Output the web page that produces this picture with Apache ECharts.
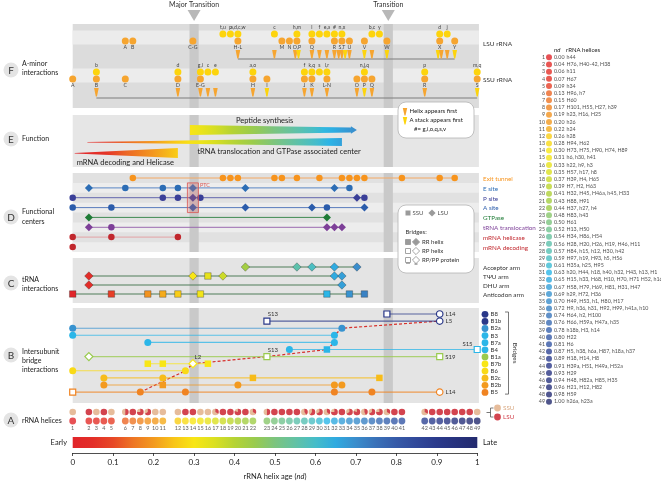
<!DOCTYPE html>
<html>
<head>
<meta charset="utf-8">
<title>Ribosomal history</title>
<script src="https://cdn.jsdelivr.net/npm/echarts@6/dist/echarts.min.js"></script>
<style>
html,body{margin:0;padding:0;background:#ffffff;}
#chart{width:661px;height:485px;}
</style>
</head>
<body>
<div id="chart"></div>
<script>
// ======================= DATA =======================
const helixNd = [0.00,0.04,0.06,0.07,0.09,0.13,0.15,0.17,0.19,0.20,0.22,0.26,0.28,0.30,0.31,0.33,0.35,0.37,0.39,0.41,0.43,0.44,0.48,0.50,0.52,0.54,0.56,0.57,0.59,0.61,0.63,0.65,0.67,0.69,0.70,0.72,0.74,0.76,0.78,0.80,0.81,0.87,0.89,0.91,0.93,0.94,0.96,0.98,1.00];
const helixNames = [
'h44','H76, H40-42, H38','h11','H67','h34','H96, h7','H60','H101, H55, H27, h39','h23, H16, H25','h26',
'h24','h28','H94, H62','H73, H75, H90, H74, H89','h6, h30, h41','h22, h9, h3','H57, h17, h8','H39, H4, H65','H7, H2, H63','H32, H45, H46a, h45, H33',
'H88, H91','H37, h27, h4','H83, h43','H61','H13, H50','H34, H86, H54','H28, H20, H26, H19, H46, H11','H84, h15, h12, H30, h42','H97, h19, H93, h5, H56','H35a, h25, H95',
'h20, H44, h18, h40, h32, H43, h13, H1','H15, h33, H68, H10, H70, H71 H52, h16','H58, H79, H69, H81, H31, H47','h29, H72, H36','H49, H53, h1, H80, H17','H9, h36, h31, H92, H99, h41a, h10','H64, h2, H100','H66, H59a, H47a, h35','h18b, H3, h14','H22',
'H6','H5, h38, h6a, H87, h18a, h37','H18, H14, H8','H39a, H51, H49a, H52a','H29','H48, H82a, H85, H35','H21, H12, H82','H59','h26a, h23a'];

const tickLabels = ['0','0.1','0.2','0.3','0.4','0.5','0.6','0.7','0.8','0.9','1'];
const transitionNames = ['Major Transition','Transition'];
const transitionNd = [0.30, 0.78];

// F: A-minor interactions (helix numbers 1..49)
const lsuHelixIdx = [6,7,14,20,25,26,27,29,32,33,34,36,39,44,46];
const lsuHelixLab = ['A','B','C-G','H-L','M','N','O,P','Q','R','S,T','U','V','W','X','Y'];
const lsuStackIdx = [18,19,20,24,27,29,30,31,32,33,37,38,44,45];
const lsuStackLab = ['t,u','p','a,d,c,w','c','h,m','l','f','e,a','#','n,x','b,c','y','d','j'];
const lsuFirstIdx = [20,24,27,27,29,30,31,32,33,33,33,34,36,37,39,44,44,45,46];
const lsuFirstType = ['H','H','H','A','H','H','H','H','H','H','A','H','A','H','A','A','H','H','A'];
const ssuHelixIdx = [1,3,6,12,15,22,23,28,29,31,35,36,37,42,49];
const ssuHelixLab = ['A','B','C','D','E-G','H','I','J','K','L-N','O','P','Q','R','S'];
const ssuStackIdx = [3,12,15,16,17,22,28,29,30,31,36,42,49];
const ssuStackLab = ['b','d','g,i','c','e','a,o','f','k,q','s','l,r','n,j,q','p','m,q'];
const ssuFirstIdx = [3,12,15,16,17,22,23,28,29,31,35,36,37,42,49];
const ssuFirstType = ['H','H','H','H','H','H','A','H','H','H','H','A','H','H','A'];

// E: function
const functionNames = ['Peptide synthesis','tRNA translocation and GTPase associated center','mRNA decoding and Helicase'];
const functionFromIdx = [14, 2, 1];
const functionToIdx = [35, 33, 12];

// D: functional centers  [helix, shape]
const centerNames = ['Exit tunnel','E site','P site','A site','GTPase','tRNA translocation','mRNA helicase','mRNA decoding'];
const exitTunnel = [[7,'c'],[18,'c'],[19,'c'],[20,'c'],[24,'c'],[25,'c'],[27,'c'],[30,'c'],[33,'c'],[34,'c'],[35,'c'],[36,'c'],[41,'c'],[44,'c'],[46,'c']];
const eSite = [[2,'d'],[6,'c'],[11,'c'],[12,'c'],[14,'d'],[21,'d'],[32,'d'],[34,'c']];
const pSite = [[1,'c'],[11,'c'],[12,'c'],[14,'d'],[15,'c'],[35,'d'],[36,'c']];
const aSite = [[1,'c'],[5,'c'],[14,'d'],[21,'d'],[29,'d'],[31,'c'],[36,'d']];
const gtpase = [[2,'d'],[31,'d']];
const trnaTransloc = [[2,'d'],[5,'c'],[31,'d'],[32,'d'],[33,'d']];
const mrnaHelicase = [[1,'c'],[5,'c'],[12,'c']];
const mrnaDecoding = [[1,'c']];
const ptcHelix = 14;

// C: tRNA interactions
const trnaNames = ['Acceptor arm','TΨU arm','DHU arm','Anticodon arm'];
const acceptorArm = [[21,'d'],[27,'d'],[29,'d'],[32,'d'],[35,'d']];
const tpsiArm = [[2,'d'],[14,'d'],[16,'s'],[18,'d'],[32,'d'],[33,'d']];
const dhuArm = [[2,'d'],[33,'d']];
const anticodonArm = [[1,'s'],[5,'s'],[9,'s'],[11,'s'],[12,'s'],[15,'s'],[31,'s'],[34,'s'],[36,'s']];

// B: intersubunit bridges
const bridgeNames = ['B8','B1b','B2a','B3','B7a','B4','B1a','B7b','B6','B2c','B2b','B5'];
const bridgeAge = [0.91,0.91,0.69,0.63,0.63,0.63,0.45,0.30,0.28,0.24,0.20,0.17];
const bridgeB8  = [[39,'os'],[44,'oc']];
const bridgeB1b = [[23,'os'],[44,'oc']];
const bridgeB2a = [[1,'c'],[33,'c']];
const bridgeB3  = [[1,'c'],[32,'c']];
const bridgeB7a = [[9,'c'],[32,'c']];
const bridgeB4  = [[26,'c'],[31,'s'],[49,'os']];
const bridgeB1a = [[2,'od'],[23,'os'],[44,'os']];
const bridgeB7b = [[9,'s'],[11,'s'],[14,'od'],[16,'s']];
const bridgeB6  = [[1,'c'],[13,'c']];
const bridgeB2c = [[4,'c'],[11,'c'],[22,'s'],[38,'s']];
const bridgeB2b = [[4,'c'],[11,'s'],[20,'c'],[32,'c'],[33,'c']];
const bridgeB5  = [[1,'os'],[8,'c'],[13,'c'],[32,'c'],[37,'c'],[44,'oc']];
const bridgeProteins = [['B8',44,'L14'],['B1b',23,'S13'],['B1b',44,'L5'],['B4',49,'S15'],['B1a',23,'S13'],['B1a',44,'S19'],['B7b',14,'L2'],['B5',44,'L14']];
const firstContactPath = [['B5',8],['B6',13],['B7b',14],['B1a',23],['B4',31],['B7a',32],['B3',32],['B2a',33],['B1b',44]];

// ======================= STYLE / LAYOUT =======================
const FONT = 'Lato, "Open Sans", "DejaVu Sans", sans-serif';
const X0 = 72.7, XW = 404.6, PX = 1 / XW;
const PANEL_R = 1.004;
const AGE_STOPS = [[0,'#e1252a'],[0.08,'#e43427'],[0.13,'#ec6726'],[0.2,'#f39a1f'],[0.26,'#f9cd17'],[0.3,'#f8e616'],[0.35,'#dbe021'],[0.4,'#b5d334'],[0.45,'#99cb4e'],[0.5,'#7cc47f'],[0.55,'#62c2a4'],[0.6,'#45bdc9'],[0.63,'#2bb6e8'],[0.7,'#3a8dcc'],[0.76,'#3a6bb4'],[0.82,'#3452a2'],[0.9,'#2b3a8c'],[1,'#232a6e']];
const ORANGE_F = '#f6a530', YELLOW_F = '#fdd40c';
const SSU_C = '#e6bc9b', LSU_C = '#d3444f';
const CENTER_COLORS = ['#f7941d','#2c6db5','#3a3f98','#2b5cab','#1e7b36','#7d3f98','#c1272d','#c1272d'];
const CENTER_LINE = ['#f4a862','#5a86c4','#6266ad','#5a7cbc','#3f8a52','#9a6ab0','#e3a2a4','#e3a2a4'];
const TRNA_LINE = '#4e7d58';
const Y = {
  lsuStack:34, lsuHelix:41, lsuTri:50, lsuLine:59,
  ssuStack:72, ssuHelix:79, ssuTri:88, ssuLine:98,
  centers:[178,187.9,197.7,207.6,217.4,227.3,237.1,247],
  trna:[267,276,285,294],
  bridge0:314, bridgeStep:7.1,
  aTop:412, aBottom:421, cbar:[437,448]
};
const PANELS = {F:[24,108], E:[115,167], D:[173,252], C:[258,303], B:[308,403]};

function hexToRgb(h){ return [parseInt(h.slice(1,3),16), parseInt(h.slice(3,5),16), parseInt(h.slice(5,7),16)]; }
function ageColor(v){
  v = Math.max(0, Math.min(1, v));
  for (let i = 1; i < AGE_STOPS.length; i++) {
    if (v <= AGE_STOPS[i][0]) {
      const a = AGE_STOPS[i-1][0], b = AGE_STOPS[i][0];
      const A = hexToRgb(AGE_STOPS[i-1][1]), B = hexToRgb(AGE_STOPS[i][1]);
      const t = (v - a) / (b - a);
      return 'rgb(' + A.map((x,k)=>Math.round(x + (B[k]-x)*t)).join(',') + ')';
    }
  }
  return AGE_STOPS[AGE_STOPS.length-1][1];
}
function gradientStops(a, b){
  const out = [];
  for (let i = 0; i <= 20; i++) out.push({offset:i/20, color:ageColor(a + (b-a)*i/20)});
  return out;
}

// helix x positions: clusters of close ages are spread evenly (as in panel A)
const STEP = 7.5 * PX;
const helixX = [];
helixNd.forEach((v, i) => {
  if (i === 0 || v - helixNd[i-1] >= 0.03 - 1e-9) helixX.push(v);
  else helixX.push(helixX[i-1] + STEP);
});
const hx = i => helixX[i-1];

const lsuFrac = helixNames.map(n => {
  const t = n.split(/[,\s]+/).filter(s => s.length);
  return t.filter(s => s[0] === 'H').length / t.length;
});

// ======================= SERIES =======================
const series = [];
const base = {xAxisIndex:0, yAxisIndex:0, clip:false, silent:true, animation:false};

// panel backgrounds
const bgRects = [];
bgRects.push([0, PANEL_R, PANELS.F[0], PANELS.F[1], '#dcdcdc']);
bgRects.push([0, PANEL_R, 30.5, 44.5, '#ececec']);
bgRects.push([0, PANEL_R, 68.5, 82.5, '#ececec']);
bgRects.push([0, PANEL_R, PANELS.E[0], PANELS.E[1], '#e6e6e6']);
bgRects.push([0, PANEL_R, PANELS.D[0], PANELS.D[1], '#e1e1e1']);
for (let i = 1; i < 8; i += 2) bgRects.push([0, PANEL_R, PANELS.D[0] + 9.875*i, PANELS.D[0] + 9.875*(i+1), '#ededed']);
bgRects.push([0, PANEL_R, PANELS.C[0], PANELS.C[1], '#e4e4e4']);
bgRects.push([0, PANEL_R, PANELS.B[0], PANELS.B[1], '#e4e4e4']);
Object.keys(PANELS).forEach(k => transitionNd.forEach(t => bgRects.push([t - 4.6*PX, t + 4.6*PX, PANELS[k][0], PANELS[k][1], '#c9c9c9'])));

series.push(Object.assign({}, base, {type:'custom', z:0,
  data: bgRects.map(r => [r[0], r[2]]),
  renderItem: (params, api) => {
    const r = bgRects[params.dataIndex];
    const a = api.coord([r[0], r[2]]), b = api.coord([r[1], r[3]]);
    return {type:'rect', shape:{x:a[0], y:a[1], width:b[0]-a[0], height:b[1]-a[1]}, style:{fill:r[4]}};
  }}));

// transition headers
series.push(Object.assign({}, base, {type:'custom', z:2,
  data: transitionNd.map(v => [v, 5]),
  renderItem: (params, api) => {
    const p = api.coord([api.value(0), 5]);
    return {type:'group', children:[
      {type:'text', x:p[0], y:p[1], style:{text:transitionNames[params.dataIndex], fill:'#333', fontSize:7, fontFamily:FONT, align:'center', textAlign:'center', verticalAlign:'middle', textVerticalAlign:'middle'}},
      {type:'polygon', shape:{points:[[p[0]-6.5,p[1]+5],[p[0]+6.5,p[1]+5],[p[0],p[1]+16]]}, style:{fill:'#b8b8b8'}}
    ]};
  }}));

// ---- Panel F ----
function labeledDots(idx, lab, y, color, pos){
  return Object.assign({}, base, {type:'scatter', z:4, symbolSize:7, itemStyle:{color:color, opacity:1},
    label:{show:true, position:pos, distance:0.5, fontSize:5.2, color:'#444', fontFamily:FONT},
    data: idx.map((ix,k) => ({value:[hx(ix), y], label:{formatter:lab[k]}}))});
}
series.push(labeledDots(lsuHelixIdx, lsuHelixLab, Y.lsuHelix, ORANGE_F, 'bottom'));
series.push(labeledDots(lsuStackIdx, lsuStackLab, Y.lsuStack, YELLOW_F, 'top'));
series.push(labeledDots(ssuHelixIdx, ssuHelixLab, Y.ssuHelix, ORANGE_F, 'bottom'));
series.push(labeledDots(ssuStackIdx, ssuStackLab, Y.ssuStack, YELLOW_F, 'top'));

function triData(idxArr, typeArr, yTop){
  const cnt = {}, seen = {};
  idxArr.forEach(i => cnt[i] = (cnt[i]||0) + 1);
  return idxArr.map((ix,k) => {
    const n = cnt[ix]; const s = (seen[ix] = (seen[ix]||0) + 1) - 1;
    return [hx(ix) + (s - (n-1)/2) * 3.2 * PX, yTop, typeArr[k] === 'A' ? 1 : 0];
  });
}
const triAll = triData(lsuFirstIdx, lsuFirstType, Y.lsuTri).concat(triData(ssuFirstIdx, ssuFirstType, Y.ssuTri));
series.push(Object.assign({}, base, {type:'custom', z:4, data: triAll,
  renderItem: (params, api) => {
    const p = api.coord([api.value(0), api.value(1)]);
    const c = api.value(2) ? YELLOW_F : ORANGE_F;
    return {type:'polygon', shape:{points:[[p[0]-2.3,p[1]],[p[0]+2.3,p[1]],[p[0]+0.6,p[1]+8.5],[p[0]-0.6,p[1]+8.5]]}, style:{fill:c}};
  }}));
[[lsuFirstIdx, Y.lsuLine],[ssuFirstIdx, Y.ssuLine]].forEach(([arr, y]) => {
  const xs = arr.map(hx);
  series.push(Object.assign({}, base, {type:'line', z:3, symbol:'none', lineStyle:{color:'#7d7d7d', width:1},
    data:[[Math.min.apply(null, xs), y],[Math.max.apply(null, xs), y]]}));
});

// ---- Panel E ----
const FUNC_LAYOUT = [
  {dx:-3, shape:(a,b)=>[[a,125],[b-6,127.4],[b-6,126.2],[b,130],[b-6,133.8],[b-6,132.6],[a,135]], tx:46, ty:121},
  {dx:-1.5, shape:(a,b)=>[[a,142],[b,138],[b,146],[a,142.6]], tx:110, ty:152},
  {dx:2, shape:(a,b)=>[[a,153],[b,148],[b,158],[a,153.6]], tx:2, ty:162.5}
];
series.push(Object.assign({}, base, {type:'custom', z:3,
  data: functionFromIdx.map((f,k) => [hx(f), 140]),
  renderItem: (params, api) => {
    const k = params.dataIndex, L = FUNC_LAYOUT[k];
    const a = hx(functionFromIdx[k]), b = hx(functionToIdx[k]);
    const xa = api.coord([a, 0])[0] + L.dx, xb = api.coord([b, 0])[0];
    return {type:'group', children:[
      {type:'polygon', shape:{points:L.shape(xa, xb)}, style:{fill:new echarts.graphic.LinearGradient(0,0,1,0, gradientStops(a, b))}},
      {type:'text', x:xa + L.tx, y:L.ty, style:{text:functionNames[k], fill:'#222', fontSize:7.5, fontFamily:FONT, align:'left', textAlign:'left', verticalAlign:'middle', textVerticalAlign:'middle'}}
    ]};
  }}));

// ---- Panel D ----
const SYM = {c:'circle', d:'diamond', s:'rect', oc:'circle', od:'diamond', os:'rect'};
const SYMSIZE_D = {c:6.5, d:8, s:6};
[exitTunnel, eSite, pSite, aSite, gtpase, trnaTransloc, mrnaHelicase, mrnaDecoding].forEach((row, r) => {
  series.push(Object.assign({}, base, {type:'line', z:3, showSymbol:true,
    lineStyle:{color:CENTER_LINE[r], width:1}, itemStyle:{color:CENTER_COLORS[r]},
    data: row.map(([ix, sh]) => ({value:[hx(ix), Y.centers[r]], symbol:SYM[sh], symbolSize:SYMSIZE_D[sh]}))}));
});
// PTC box
series.push(Object.assign({}, base, {type:'custom', z:5, data:[[hx(ptcHelix), Y.centers[2]]],
  renderItem: (params, api) => {
    const p = api.coord([api.value(0), api.value(1)]);
    const y0 = Y.centers[1] - 5, y1 = Y.centers[3] + 5;
    return {type:'group', children:[
      {type:'rect', shape:{x:p[0]-5.5, y:y0, width:11, height:y1-y0}, style:{fill:'rgba(226,110,110,0.28)', stroke:'#d9534f', lineWidth:0.8}},
      {type:'text', x:p[0]+7, y:y0+2.5, style:{text:'PTC', fill:'#d9534f', fontSize:5.5, fontFamily:FONT, align:'left', textAlign:'left', verticalAlign:'middle', textVerticalAlign:'middle'}}
    ]};
  }}));

// ---- Panel C ----
[acceptorArm, tpsiArm, dhuArm, anticodonArm].forEach((row, r) => {
  series.push(Object.assign({}, base, {type:'line', z:3, showSymbol:true,
    lineStyle:{color:TRNA_LINE, width:1},
    data: row.map(([ix, sh]) => ({value:[hx(ix), Y.trna[r]], symbol:SYM[sh], symbolSize:SYMSIZE_D[sh] + 0.5,
      itemStyle:{color:ageColor(helixNd[ix-1]), borderColor:'rgba(40,40,40,0.55)', borderWidth:0.6}}))}));
});

// ---- Panel B ----
const bridgeRows = [bridgeB8, bridgeB1b, bridgeB2a, bridgeB3, bridgeB7a, bridgeB4, bridgeB1a, bridgeB7b, bridgeB6, bridgeB2c, bridgeB2b, bridgeB5];
const bridgeY = k => Y.bridge0 + Y.bridgeStep * k;
const PROT_LABEL = {L14:{position:'right', distance:2}, L5:{position:'right', distance:2}, S19:{position:'right', distance:2},
  S13:{position:'top', distance:1, offset:[6,1]}, S15:{position:'left', distance:1, offset:[0,-5]}, L2:{position:'top', distance:1, offset:[5,2]}};
const SYMSIZE_B = {c:7, d:8.5, s:6.5, oc:6.5, od:8, os:6};
// first-contact dashed path (drawn beneath markers)
series.push(Object.assign({}, base, {type:'line', z:3, symbol:'none',
  lineStyle:{color:'#d7302c', width:1.2, type:[3,2]},
  data: firstContactPath.map(([b, ix]) => [hx(ix), bridgeY(bridgeNames.indexOf(b))])}));
bridgeRows.forEach((row, k) => {
  const col = ageColor(bridgeAge[k]);
  series.push(Object.assign({}, base, {type:'line', z:3, showSymbol:true,
    lineStyle:{color:col, width:1.1, opacity:0.75},
    data: row.map(([ix, sh]) => {
      const open = sh[0] === 'o';
      const prot = bridgeProteins.find(p => p[0] === bridgeNames[k] && p[1] === ix);
      const item = {value:[hx(ix), bridgeY(k)], symbol:SYM[sh], symbolSize:SYMSIZE_B[sh],
        itemStyle: open ? {color:'#ffffff', borderColor:col, borderWidth:1.2} : {color:col, borderWidth:0}};
      if (prot) item.label = Object.assign({show:true, formatter:prot[2], fontSize:6, color:'#333', fontFamily:FONT}, PROT_LABEL[prot[2]]);
      return item;
    })}));
});

// ---- Panel A ----
series.push(Object.assign({}, base, {type:'custom', z:4,
  data: helixNd.map((v,i) => [hx(i+1), Y.aTop]),
  renderItem: (params, api) => {
    const i = params.dataIndex, p = api.coord([hx(i+1), Y.aTop]), r = 3.3, f = lsuFrac[i];
    if (f <= 0 || f >= 1) return {type:'circle', shape:{cx:p[0], cy:p[1], r:r}, style:{fill: f >= 1 ? LSU_C : SSU_C}};
    const s = -Math.PI/2;
    return {type:'group', children:[
      {type:'circle', shape:{cx:p[0], cy:p[1], r:r}, style:{fill:SSU_C}},
      {type:'sector', shape:{cx:p[0], cy:p[1], r0:0, r:r, startAngle:s, endAngle:s + 2*Math.PI*f, clockwise:true}, style:{fill:LSU_C}}
    ]};
  }}));
series.push(Object.assign({}, base, {type:'scatter', z:4, symbolSize:6.8,
  label:{show:true, position:'bottom', distance:1.2, fontSize:5.5, color:'#333', fontFamily:FONT, formatter:p => String(p.dataIndex + 1)},
  data: helixNd.map((v,i) => ({value:[hx(i+1), Y.aBottom], itemStyle:{color:ageColor(v)}}))}));

// colour bar
series.push(Object.assign({}, base, {type:'custom', z:2, data:[[0, Y.cbar[0]]],
  renderItem: (params, api) => {
    const a = api.coord([0, Y.cbar[0]]), b = api.coord([1, Y.cbar[1]]);
    return {type:'rect', shape:{x:a[0], y:a[1], width:b[0]-a[0], height:b[1]-a[1]},
      style:{fill:new echarts.graphic.LinearGradient(0,0,1,0, gradientStops(0,1))}};
  }}));

// helix age list (right): circle, number, nd value, helix names
const LIST_LABEL = {fontFamily:FONT, color:'#222', fontSize:5.3};
series.push({type:'scatter', xAxisIndex:2, yAxisIndex:2, z:4, silent:true, animation:false, clip:false, symbolSize:6,
  label:Object.assign({show:true, position:'right', distance:2, formatter:p => helixNd[p.dataIndex].toFixed(2)}, LIST_LABEL),
  data: helixNd.map((v,i) => ({value:[0, i], itemStyle:{color:ageColor(v)}}))});
series.push({type:'scatter', xAxisIndex:2, yAxisIndex:2, z:4, silent:true, animation:false, clip:false, symbolSize:6,
  itemStyle:{color:'rgba(0,0,0,0)'},
  label:Object.assign({show:true, position:'left', distance:1, formatter:p => String(p.dataIndex + 1)}, LIST_LABEL),
  data: helixNd.map((v,i) => [0, i])});
series.push({type:'scatter', xAxisIndex:2, yAxisIndex:2, z:4, silent:true, animation:false, clip:false, symbolSize:1,
  itemStyle:{color:'rgba(0,0,0,0)'},
  label:Object.assign({show:true, position:'right', distance:0, formatter:p => helixNames[p.dataIndex]}, LIST_LABEL),
  data: helixNd.map((v,i) => [1, i])});

// ======================= GRAPHIC (annotations) =======================
const G = [];
function txt(x, y, text, o){
  o = o || {};
  G.push({type:'text', x:x, y:y, z:100, silent:true, rotation:o.rot || 0,
    style:{text:text, fill:o.color || '#222', fontSize:o.size || 7, fontFamily:FONT, fontStyle:o.italic ? 'italic' : 'normal',
      align:o.align || 'left', textAlign:o.align || 'left', verticalAlign:'middle', textVerticalAlign:'middle'}});
}
function shape(el){ el.z = 100; el.silent = true; G.push(el); }
function pin(x, y, color){ shape({type:'polygon', shape:{points:[[x-2.2,y],[x+2.2,y],[x+0.5,y+7.5],[x-0.5,y+7.5]]}, style:{fill:color}}); }
function dia(cx, cy, r, fill, stroke){ shape({type:'polygon', shape:{points:[[cx,cy-r],[cx+r,cy],[cx,cy+r],[cx-r,cy]]}, style:{fill:fill, stroke:stroke || null, lineWidth:0.9}}); }

// panel tags
const PANEL_TAGS = [['F',70,['A-minor','interactions'],[63.5,72.5]], ['E',139,['Function'],[139]], ['D',217,['Functional','centers'],[212,222]],
  ['C',283,['tRNA','interactions'],[279.5,288.5]], ['B',355,['Intersubunit','bridge','interactions'],[352,361,370]], ['A',420,['rRNA helices'],[420.5]]];
PANEL_TAGS.forEach(([L, cy, lines, ys]) => {
  shape({type:'circle', shape:{cx:11, cy:cy, r:7.5}, style:{fill:'#e4e4e4'}});
  txt(11, cy + 0.5, L, {size:10, align:'center', color:'#333'});
  lines.forEach((s, i) => txt(22, ys[i], s, {size:7}));
});

// right-side labels
txt(483, 44, 'LSU rRNA', {size:6.5, color:'#333'});
txt(483, 80, 'SSU rRNA', {size:6.5, color:'#333'});
centerNames.forEach((n, r) => txt(483, Y.centers[r] + 0.8, n, {size:6.3, color:CENTER_COLORS[r]}));
trnaNames.forEach((n, r) => txt(483, Y.trna[r] + 0.5, n, {size:6.3, color:'#333'}));

// bridge legend
bridgeNames.forEach((n, k) => {
  const y = bridgeY(k) + 0.3;
  shape({type:'circle', shape:{cx:485, cy:y, r:3.4}, style:{fill:ageColor(bridgeAge[k])}});
  txt(490.5, y, n, {size:6, color:'#333'});
});
shape({type:'polyline', shape:{points:[[505,bridgeY(0)-2],[508.5,bridgeY(0)-2],[508.5,bridgeY(11)+2],[505,bridgeY(11)+2]]}, style:{stroke:'#555', lineWidth:0.8, fill:null}});
txt(515, (bridgeY(0)+bridgeY(11))/2, 'Bridges', {size:6.3, align:'center', rot:-Math.PI/2, color:'#333'});

// SSU / LSU legend (panel A)
shape({type:'polyline', shape:{points:[[493.5,408],[490.5,408],[490.5,417],[493.5,417]]}, style:{stroke:'#555', lineWidth:0.8, fill:null}});
shape({type:'line', shape:{x1:486.5, y1:412.5, x2:490.5, y2:412.5}, style:{stroke:'#555', lineWidth:0.8}});
shape({type:'circle', shape:{cx:497.5, cy:408, r:3.4}, style:{fill:SSU_C}});
shape({type:'circle', shape:{cx:497.5, cy:417, r:3.4}, style:{fill:LSU_C}});
txt(503, 408, 'SSU', {size:6.3, color:'#d9a983'});
txt(503, 417, 'LSU', {size:6.3, color:LSU_C});

// colour bar ends
txt(67, 443, 'Early', {size:7.5, align:'right'});
txt(483, 443, 'Late', {size:7.5});

// helix list header
txt(554, 50, 'nd', {size:6, italic:true});
txt(566, 50, 'rRNA helices', {size:6});

// F legend box
shape({type:'rect', shape:{x:398, y:102, width:76, height:36, r:8}, style:{fill:'#ffffff', stroke:'#b3b3b3', lineWidth:0.8}});
pin(405, 108, ORANGE_F); txt(409.5, 111.5, 'Helix appears first', {size:6});
pin(405, 117, YELLOW_F); txt(409.5, 120.5, 'A stack appears first', {size:6});
txt(414, 129, '#= g,i,o,q,s,v', {size:6});

// D legend box
shape({type:'rect', shape:{x:398, y:205, width:76, height:68, r:8}, style:{fill:'#ffffff', stroke:'#b3b3b3', lineWidth:0.8}});
shape({type:'rect', shape:{x:405.5, y:210.5, width:5, height:5}, style:{fill:'#9a9a9a'}});
txt(412.5, 213, 'SSU', {size:6, color:'#555'});
dia(432, 213, 3.6, '#9a9a9a');
txt(437.5, 213, 'LSU', {size:6, color:'#555'});
txt(405.5, 232, 'Bridges:', {size:6, color:'#333'});
[[242,'RR helix','fill'],[251,'RP helix','open'],[260,'RP/PP protein','prot']].forEach(([y, lab, kind]) => {
  const filled = kind === 'fill';
  shape({type:'rect', shape:{x:405.5, y:y-2.5, width:5, height:5}, style:{fill:filled ? '#9a9a9a' : '#fff', stroke:'#9a9a9a', lineWidth:0.9}});
  dia(416, y, 3.6, filled ? '#9a9a9a' : '#fff', '#9a9a9a');
  if (kind === 'prot') {
    shape({type:'rect', shape:{x:406, y:y+2.2, width:4, height:1.6}, style:{fill:'#9a9a9a'}});
    shape({type:'rect', shape:{x:414.5, y:y+3.2, width:3, height:1.6}, style:{fill:'#9a9a9a'}});
  }
  txt(422, y, lab, {size:6, color:'#333'});
});

// ======================= OPTION =======================
const option = {
  animation:false,
  backgroundColor:'#ffffff',
  textStyle:{fontFamily:FONT},
  grid:[
    {left:X0, width:XW, top:0, height:485, outerBoundsMode:'none'},
    {left:X0, width:XW, top:441, height:12, outerBoundsMode:'none'},
    {left:549, width:17, top:57.3, height:344.4, outerBoundsMode:'none'}
  ],
  xAxis:[
    {gridIndex:0, type:'value', min:0, max:1, show:false},
    {gridIndex:1, type:'value', min:0, max:1, interval:0.1,
      axisLine:{show:true, onZero:false, lineStyle:{color:'#222', width:0.8}},
      axisTick:{show:true, length:3, lineStyle:{color:'#222', width:0.8}},
      splitLine:{show:false},
      axisLabel:{fontSize:8, color:'#222', fontFamily:FONT, margin:5, formatter:v => tickLabels[Math.round(v*10)]},
      name:'rRNA helix age ({i|nd})', nameLocation:'middle', nameGap:20,
      nameTextStyle:{fontSize:7.5, color:'#222', fontFamily:FONT, rich:{i:{fontStyle:'italic', fontSize:7.5, color:'#222', fontFamily:FONT}}}},
    {gridIndex:2, type:'value', min:0, max:1, show:false}
  ],
  yAxis:[
    {gridIndex:0, type:'value', min:0, max:485, inverse:true, show:false},
    {gridIndex:1, type:'value', min:0, max:1, show:false},
    {gridIndex:2, type:'value', min:0, max:48, inverse:true, show:false}
  ],
  series: series,
  graphic: G
};
const chart = echarts.init(document.getElementById('chart'), null, {renderer:'canvas', width:661, height:485});
chart.setOption(option);
</script>
</body>
</html>
